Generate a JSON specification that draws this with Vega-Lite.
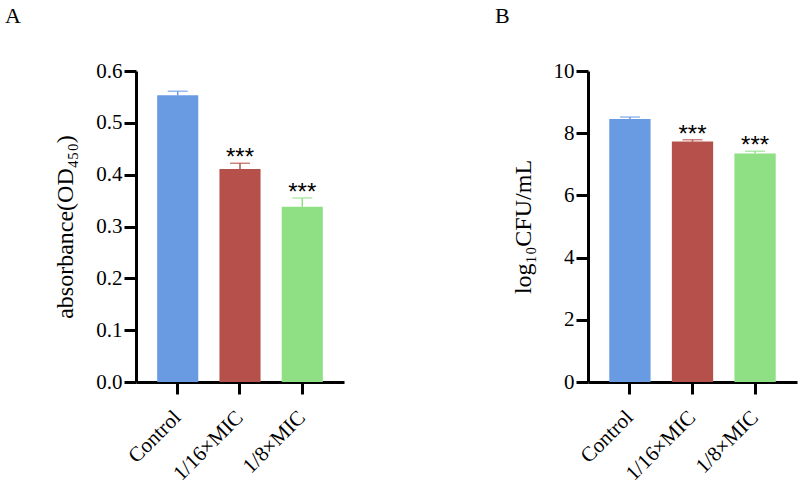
{
  "$schema": "https://vega.github.io/schema/vega-lite/v6.json",
  "background": "white",
  "padding": 5,
  "config": {
    "view": {"stroke": null},
    "font": "Liberation Serif",
    "axis": {
      "grid": false,
      "domainColor": "black",
      "domainWidth": 3,
      "tickColor": "black",
      "tickWidth": 3,
      "tickSize": 12,
      "labelFont": "Liberation Serif",
      "labelFontSize": 21,
      "labelColor": "black",
      "titleFont": "Liberation Serif",
      "titleFontSize": 24,
      "titleFontWeight": "normal",
      "titleColor": "black"
    },
    "title": {
      "font": "Liberation Serif",
      "fontSize": 22,
      "fontWeight": "normal",
      "color": "black",
      "anchor": "start",
      "frame": "group",
      "offset": 32
    }
  },
  "bounds": "flush",
  "spacing": 244,
  "hconcat": [
    {
      "title": {"text": "A", "dx": -131},
      "width": 208,
      "height": 311,
      "data": {
        "values": [
          {"group": "Control", "mean": 0.553, "upper": 0.561, "sig": ""},
          {"group": "1/16×MIC", "mean": 0.411, "upper": 0.422, "sig": "***"},
          {"group": "1/8×MIC", "mean": 0.338, "upper": 0.355, "sig": "***"}
        ]
      },
      "encoding": {
        "x": {
          "field": "group",
          "type": "nominal",
          "sort": null,
          "scale": {"paddingInner": 0.34, "paddingOuter": 0.34},
          "axis": {"title": null, "labelAngle": -45, "labelAlign": "right", "labelBaseline": "middle", "labelPadding": 20}
        },
        "color": {
          "field": "group",
          "type": "nominal",
          "sort": null,
          "scale": {"range": ["#699BE3", "#B5514A", "#8FE084"]},
          "legend": null
        }
      },
      "layer": [
        {
          "mark": {"type": "rule", "strokeWidth": 1.5},
          "encoding": {
            "y": {"field": "mean", "type": "quantitative"},
            "y2": {"field": "upper"}
          }
        },
        {
          "mark": {"type": "tick", "size": 20, "thickness": 1.5},
          "encoding": {"y": {"field": "upper", "type": "quantitative"}}
        },
        {
          "mark": {"type": "bar"},
          "encoding": {
            "y": {
              "field": "mean",
              "type": "quantitative",
              "scale": {"domain": [0, 0.6]},
              "axis": {
                "title": "absorbance(OD₄₅₀)",
                "values": [0, 0.1, 0.2, 0.3, 0.4, 0.5, 0.6],
                "format": ".1f",
                "labelPadding": 2,
                "titlePadding": 18
              }
            }
          }
        },
        {
          "mark": {"type": "text", "font": "Liberation Sans", "fontSize": 24, "baseline": "alphabetic", "dy": 2, "color": "black"},
          "encoding": {
            "y": {"field": "upper", "type": "quantitative"},
            "text": {"field": "sig"},
            "color": {"value": "black"}
          }
        }
      ]
    },
    {
      "title": {"text": "B", "dx": -93},
      "width": 209,
      "height": 311,
      "data": {
        "values": [
          {"group": "Control", "mean": 8.46, "upper": 8.52, "sig": ""},
          {"group": "1/16×MIC", "mean": 7.73, "upper": 7.79, "sig": "***"},
          {"group": "1/8×MIC", "mean": 7.35, "upper": 7.42, "sig": "***"}
        ]
      },
      "encoding": {
        "x": {
          "field": "group",
          "type": "nominal",
          "sort": null,
          "scale": {"paddingInner": 0.34, "paddingOuter": 0.34},
          "axis": {"title": null, "labelAngle": -45, "labelAlign": "right", "labelBaseline": "middle", "labelPadding": 20}
        },
        "color": {
          "field": "group",
          "type": "nominal",
          "sort": null,
          "scale": {"range": ["#699BE3", "#B5514A", "#8FE084"]},
          "legend": null
        }
      },
      "layer": [
        {
          "mark": {"type": "rule", "strokeWidth": 1.5},
          "encoding": {
            "y": {"field": "mean", "type": "quantitative"},
            "y2": {"field": "upper"}
          }
        },
        {
          "mark": {"type": "tick", "size": 20, "thickness": 1.5},
          "encoding": {"y": {"field": "upper", "type": "quantitative"}}
        },
        {
          "mark": {"type": "bar"},
          "encoding": {
            "y": {
              "field": "mean",
              "type": "quantitative",
              "scale": {"domain": [0, 10]},
              "axis": {
                "title": "log₁₀CFU/mL",
                "values": [0, 2, 4, 6, 8, 10],
                "labelPadding": 2,
                "titlePadding": 18
              }
            }
          }
        },
        {
          "mark": {"type": "text", "font": "Liberation Sans", "fontSize": 24, "baseline": "alphabetic", "dy": 2, "color": "black"},
          "encoding": {
            "y": {"field": "upper", "type": "quantitative"},
            "text": {"field": "sig"},
            "color": {"value": "black"}
          }
        }
      ]
    }
  ]
}
